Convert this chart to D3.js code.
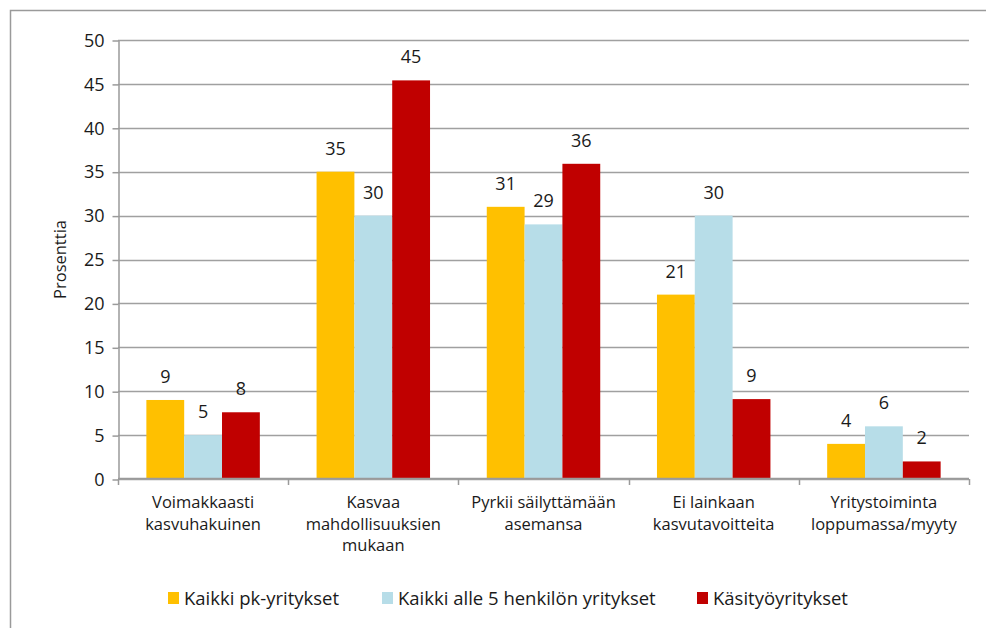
<!DOCTYPE html>
<html>
<head>
<meta charset="utf-8">
<script src="https://cdn.jsdelivr.net/npm/d3@7"></script>
<style>
body { margin: 0; background: #fff; }
text { font-family: "Open Sans", "Noto Sans", sans-serif; fill: #1a1a1a; }
</style>
</head>
<body>
<svg id="chart" width="986" height="628"></svg>
<script>
// categories (two/three line labels) and the three series
var categories = [
	["Voimakkaasti", "kasvuhakuinen"],
	["Kasvaa", "mahdollisuuksien", "mukaan"],
	["Pyrkii säilyttämään", "asemansa"],
	["Ei lainkaan", "kasvutavoitteita"],
	["Yritystoiminta", "loppumassa/myyty"]
];
var seriesNames = ["Kaikki pk-yritykset", "Kaikki alle 5 henkilön yritykset", "Käsityöyritykset"];
var pkValues = [9, 35, 31, 21, 4];
var alle5Values = [5, 30, 29, 30, 6];
var kasityoValues = [7.6, 45.4, 35.9, 9.1, 2];
var yTicks = [0, 5, 10, 15, 20, 25, 30, 35, 40, 45, 50];
var colors = ["#ffc000", "#b7dde8", "#c00000"];

var series = [pkValues, alle5Values, kasityoValues];

var svg = d3.select('#chart');
var plotL = 118, plotR = 969, plotT = 40, plotB = 479;

// outer frame (only top and left edges are visible)
svg.append('path')
	.attr('d', 'M10.5,628 V10.5 H986')
	.attr('fill', 'none')
	.attr('stroke', '#9a9a9a')
	.attr('stroke-width', 1.5);

var x0 = d3.scaleBand()
	.domain(d3.range(categories.length))
	.range([plotL, plotR]);

var x1 = d3.scaleBand()
	.domain(d3.range(series.length))
	.range([0, x0.bandwidth()])
	.paddingOuter(0.75);

var y = d3.scaleLinear()
	.domain([0, 50])
	.range([plotB, plotT]);

// gridlines
svg.append('g').selectAll('line')
	.data(yTicks)
	.enter().append('line')
	.attr('x1', plotL)
	.attr('x2', plotR)
	.attr('y1', function(d) { return Math.round(y(d)) + 0.5; })
	.attr('y2', function(d) { return Math.round(y(d)) + 0.5; })
	.attr('stroke', '#a0a0a0')
	.attr('stroke-width', 1.5);

// y axis
var yAxis = svg.append('g')
	.attr('transform', 'translate(' + (plotL + 0.5) + ',0.5)')
	.call(d3.axisLeft(y).tickValues(yTicks).tickSizeInner(6).tickSizeOuter(0).tickPadding(8));
yAxis.selectAll('path, line').attr('stroke', '#9a9a9a').attr('stroke-width', 1.5);
yAxis.selectAll('text').style('font-size', '18px').style('font-family', '"Open Sans", sans-serif').attr('fill', '#1a1a1a');

svg.append('text')
	.attr('transform', 'translate(66,' + ((plotT + plotB) / 2) + ') rotate(-90)')
	.attr('text-anchor', 'middle')
	.style('font-size', '16.5px')
	.text('Prosenttia');

// bars
var groups = svg.append('g').selectAll('g')
	.data(categories)
	.enter().append('g')
	.attr('transform', function(d, i) { return 'translate(' + x0(i) + ',0)'; });

groups.selectAll('rect')
	.data(function(d, i) { return series.map(function(s, j) { return { s: j, v: s[i] }; }); })
	.enter().append('rect')
	.attr('x', function(d) { return x1(d.s); })
	.attr('width', x1.bandwidth())
	.attr('y', function(d) { return y(d.v); })
	.attr('height', function(d) { return y(0) - y(d.v); })
	.attr('fill', function(d) { return colors[d.s]; });

groups.selectAll('text.val')
	.data(function(d, i) { return series.map(function(s, j) { return { s: j, v: s[i] }; }); })
	.enter().append('text')
	.attr('class', 'val')
	.attr('x', function(d) { return x1(d.s) + x1.bandwidth() / 2; })
	.attr('y', function(d) { return y(d.v) - 17; })
	.attr('text-anchor', 'middle')
	.style('font-size', '18px')
	.text(function(d) { return d3.format('.0f')(d.v); });

// x axis line + category ticks
svg.append('line')
	.attr('x1', plotL).attr('x2', plotR)
	.attr('y1', plotB - 0.5).attr('y2', plotB - 0.5)
	.attr('stroke', '#9a9a9a').attr('stroke-width', 1.5);

svg.append('g').selectAll('line')
	.data(d3.range(categories.length + 1))
	.enter().append('line')
	.attr('x1', function(d) { return Math.round(plotL + d * x0.bandwidth()) + 0.5; })
	.attr('x2', function(d) { return Math.round(plotL + d * x0.bandwidth()) + 0.5; })
	.attr('y1', plotB).attr('y2', plotB + 6)
	.attr('stroke', '#9a9a9a').attr('stroke-width', 1.5);

var catLabels = svg.append('g').selectAll('text')
	.data(categories)
	.enter().append('text')
	.attr('text-anchor', 'middle')
	.style('font-size', '16.5px');

catLabels.selectAll('tspan')
	.data(function(d, i) { return d.map(function(t) { return { t: t, i: i }; }); })
	.enter().append('tspan')
	.attr('x', function(d) { return x0(d.i) + x0.bandwidth() / 2; })
	.attr('y', function(d, k) { return 508 + k * 21.5; })
	.text(function(d) { return d.t; });

// legend
var legendX = [168, 382, 697];
var legend = svg.append('g').selectAll('g')
	.data(seriesNames)
	.enter().append('g')
	.attr('transform', function(d, i) { return 'translate(' + legendX[i] + ',592)'; });

legend.append('rect')
	.attr('width', 11).attr('height', 12)
	.attr('fill', function(d, i) { return colors[i]; });

legend.append('text')
	.attr('x', 16).attr('y', 12.5)
	.style('font-size', '18.5px')
	.text(function(d) { return d; });
</script>
</body>
</html>
